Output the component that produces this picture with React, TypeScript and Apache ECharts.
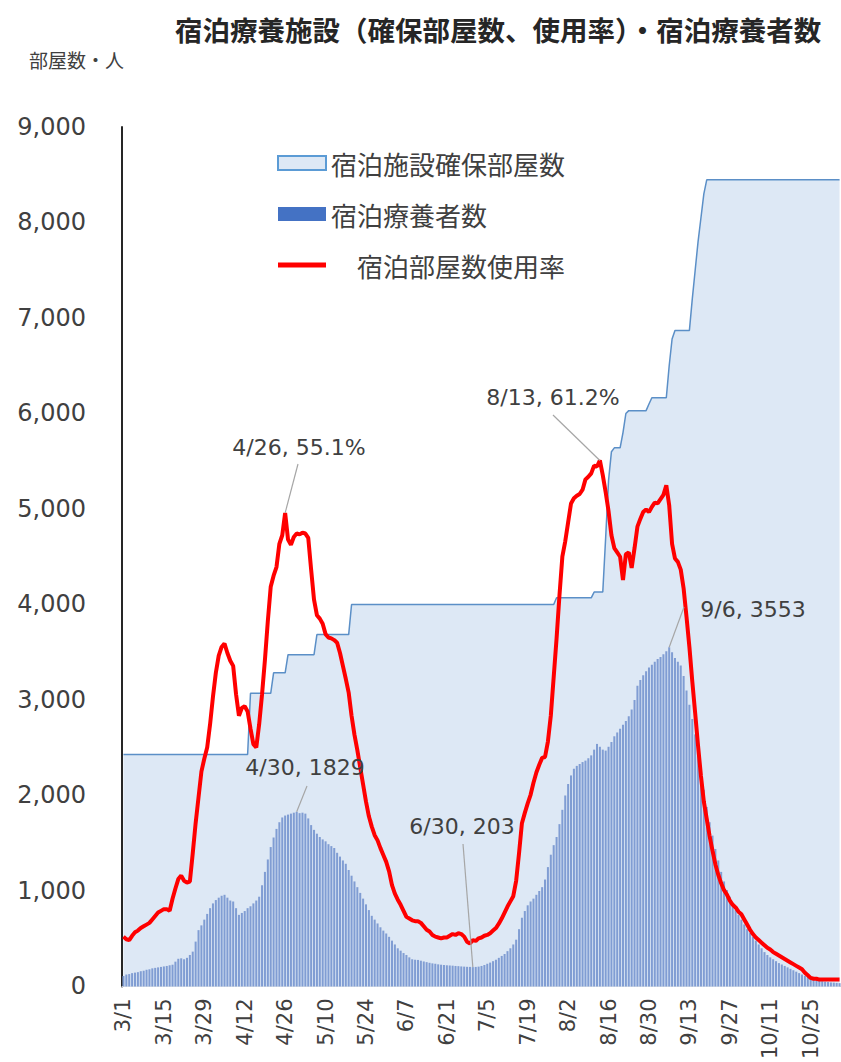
import React, { useEffect, useRef } from "react";
import * as echarts from "echarts";

// ---- Categories: daily dates from 3/1 (2021) for 249 days ----
const START_YEAR = 2021;
const START_MONTH = 3;
const START_DAY = 1;
const DAY_COUNT = 249;
function buildDates(): string[] {
  const out: string[] = [];
  const d = new Date(START_YEAR, START_MONTH - 1, START_DAY);
  for (let i = 0; i < DAY_COUNT; i++) {
    out.push(`${d.getMonth() + 1}/${d.getDate()}`);
    d.setDate(d.getDate() + 1);
  }
  return out;
}
const dates = buildDates();

// ---- 宿泊施設確保部屋数 (rooms secured) ----
const roomsSecured = [
  2430, 2430, 2430, 2430, 2430, 2430, 2430, 2430, 2430, 2430,
  2430, 2430, 2430, 2430, 2430, 2430, 2430, 2430, 2430, 2430,
  2430, 2430, 2430, 2430, 2430, 2430, 2430, 2430, 2430, 2430,
  2430, 2430, 2430, 2430, 2430, 2430, 2430, 2430, 2430, 2430,
  2430, 2430, 2430, 2430, 3070, 3070, 3070, 3070, 3070, 3070,
  3070, 3070, 3285, 3285, 3285, 3285, 3285, 3475, 3475, 3475,
  3475, 3475, 3475, 3475, 3475, 3475, 3475, 3685, 3685, 3685,
  3685, 3685, 3685, 3685, 3685, 3685, 3685, 3685, 3685, 4000,
  4000, 4000, 4000, 4000, 4000, 4000, 4000, 4000, 4000, 4000,
  4000, 4000, 4000, 4000, 4000, 4000, 4000, 4000, 4000, 4000,
  4000, 4000, 4000, 4000, 4000, 4000, 4000, 4000, 4000, 4000,
  4000, 4000, 4000, 4000, 4000, 4000, 4000, 4000, 4000, 4000,
  4000, 4000, 4000, 4000, 4000, 4000, 4000, 4000, 4000, 4000,
  4000, 4000, 4000, 4000, 4000, 4000, 4000, 4000, 4000, 4000,
  4000, 4000, 4000, 4000, 4000, 4000, 4000, 4000, 4000, 4000,
  4070, 4070, 4070, 4070, 4070, 4070, 4070, 4070, 4070, 4070,
  4070, 4070, 4070, 4130, 4130, 4130, 4130, 4700, 5300, 5600,
  5640, 5640, 5640, 5800, 6000, 6030, 6030, 6030, 6030, 6030,
  6030, 6030, 6100, 6165, 6165, 6165, 6165, 6165, 6165, 6500,
  6780, 6870, 6870, 6870, 6870, 6870, 6870, 7200, 7500, 7800,
  8050, 8300, 8447, 8447, 8447, 8447, 8447, 8447, 8447, 8447,
  8447, 8447, 8447, 8447, 8447, 8447, 8447, 8447, 8447, 8447,
  8447, 8447, 8447, 8447, 8447, 8447, 8447, 8447, 8447, 8447,
  8447, 8447, 8447, 8447, 8447, 8447, 8447, 8447, 8447, 8447,
  8447, 8447, 8447, 8447, 8447, 8447, 8447, 8447, 8447,
];

// ---- 宿泊療養者数 (people in hotel care) ----
const patients = [
  110, 125, 130, 140, 145, 150, 160, 165, 175, 180,
  190, 195, 200, 205, 210, 215, 222, 228, 260, 290,
  295, 285, 300, 330, 365, 470, 590, 640, 700, 760,
  820, 870, 905, 930, 950, 960, 930, 900, 890, 820,
  750, 770, 790, 820, 840, 870, 900, 940, 1060, 1200,
  1330, 1460, 1560, 1650, 1720, 1770, 1790, 1800, 1810, 1820,
  1829, 1815, 1820, 1810, 1760, 1690, 1640, 1600, 1565, 1540,
  1520, 1490, 1470, 1450, 1400, 1360, 1320, 1285, 1220, 1160,
  1100, 1040, 980, 920, 860, 800, 740, 700, 660, 620,
  585, 555, 520, 480, 440, 400, 375, 350, 330, 305,
  285, 280, 278, 270, 262, 255, 248, 242, 238, 232,
  228, 225, 222, 220, 218, 215, 213, 210, 208, 206,
  205, 203, 205, 208, 215, 225, 238, 250, 265, 280,
  300, 320, 340, 370, 400, 440, 490, 600, 720, 790,
  850, 890, 920, 960, 1000, 1040, 1120, 1250, 1380, 1480,
  1565, 1700, 1850, 2000, 2120, 2210, 2280, 2310, 2330, 2350,
  2365, 2390, 2420, 2480, 2540, 2510, 2480, 2470, 2510, 2560,
  2620, 2660, 2700, 2740, 2780, 2830, 2900, 3000, 3150, 3210,
  3260, 3300, 3340, 3370, 3400, 3430, 3450, 3480, 3510, 3553,
  3500, 3440, 3400, 3360, 3250, 3100, 2950, 2800, 2640, 2450,
  2250, 2060, 1880, 1720, 1580, 1440, 1320, 1200, 1100, 1010,
  940, 870, 800, 750, 700, 650, 600, 560, 520, 480,
  440, 400, 360, 330, 305, 285, 265, 245, 230, 215,
  200, 185, 170, 155, 140, 125, 112, 100, 90, 80,
  70, 62, 55, 50, 46, 42, 40, 37, 35,
];

// ---- 宿泊部屋数使用率 (usage rate, %) ----
const usageRate = [
  5.8, 5.5, 5.4, 5.9, 6.3, 6.5, 6.8, 7.0, 7.2, 7.4,
  7.8, 8.2, 8.6, 8.8, 9.0, 9.0, 8.8, 10.2, 11.4, 12.5,
  12.9, 12.3, 12.1, 12.2, 15.5, 19.0, 22.0, 25.0, 26.5, 27.8,
  30.5, 33.7, 36.5, 38.5, 39.5, 39.9, 38.8, 37.9, 37.3, 34.0,
  31.5, 32.4, 32.6, 32.0, 30.0, 28.2, 27.8, 30.5, 34.0, 38.0,
  42.5, 46.5, 47.8, 48.8, 51.5, 52.5, 55.1, 52.0, 51.4, 52.3,
  52.7, 52.6, 52.8, 52.7, 52.2, 48.5, 45.0, 43.2, 42.8, 42.2,
  41.0, 40.6, 40.5, 40.3, 40.0, 38.8, 37.3, 35.8, 34.2, 31.5,
  29.3, 27.5, 25.5, 23.5, 21.5, 19.8, 18.6, 17.6, 17.0, 16.1,
  15.3, 14.5, 13.4, 11.8, 10.8, 10.1, 9.5, 8.8, 8.1, 7.9,
  7.7, 7.6, 7.6, 7.4, 7.0, 6.6, 6.4, 6.0, 5.8, 5.7,
  5.6, 5.7, 5.7, 5.9, 6.1, 6.0, 6.2, 6.1, 5.8, 5.2,
  5.0, 5.4, 5.3, 5.6, 5.7, 5.9, 6.0, 6.2, 6.5, 6.8,
  7.3, 7.9, 8.6, 9.3, 9.9, 10.5, 12.3, 15.5, 19.0, 20.2,
  21.3, 22.3, 23.7, 24.9, 25.8, 26.6, 26.7, 28.5, 31.5, 36.0,
  40.5, 45.5, 50.0, 51.8, 54.0, 56.2, 56.8, 57.1, 57.3, 57.8,
  59.0, 59.3, 59.7, 60.6, 60.5, 61.2, 59.5, 57.5, 55.3, 52.5,
  51.0, 50.5, 50.0, 47.3, 50.3, 50.5, 48.7, 51.0, 53.5, 54.4,
  55.2, 55.5, 55.2, 55.8, 56.3, 56.2, 56.7, 57.2, 58.3, 56.0,
  51.5, 49.8, 49.4, 48.5, 46.3, 43.0, 39.5, 35.5, 31.8, 28.0,
  24.5, 21.5, 19.5, 17.5, 15.8, 14.2, 13.0, 12.0, 11.2, 10.7,
  10.0, 9.5, 9.2, 8.7, 8.4, 7.8, 7.2, 6.6, 6.1, 5.7,
  5.4, 5.1, 4.8, 4.5, 4.3, 4.0, 3.8, 3.6, 3.4, 3.2,
  3.0, 2.8, 2.6, 2.4, 2.2, 2.0, 1.6, 1.3, 1.0, 0.9,
  0.9, 0.8, 0.8, 0.8, 0.8, 0.8, 0.8, 0.8, 0.8,
];

// ---- Axis settings ----
const Y_MIN = 0;
const Y_MAX = 9000;
const Y_INTERVAL = 1000;
const RATE_MAX = 100;
const LABEL_EVERY = 14;

// ---- Names / texts ----
const TITLE = "宿泊療養施設（確保部屋数、使用率）・宿泊療養者数";
const UNIT = "部屋数・人";
const S_ROOMS = "宿泊施設確保部屋数";
const S_PATIENTS = "宿泊療養者数";
const S_RATE = "宿泊部屋数使用率";

// Callouts (which data point, label anchor)
const callouts = [
  { idx: 56, series: "rate", text: "4/26, 55.1%", lx: 299, ly: 447, fx: 298, fy: 464 },
  { idx: 165, series: "rate", text: "8/13, 61.2%", lx: 553, ly: 397, fx: 553, fy: 415 },
  { idx: 60, series: "patients", text: "4/30, 1829", lx: 305, ly: 767, fx: 307, fy: 786 },
  { idx: 121, series: "patients", text: "6/30, 203", lx: 462, ly: 826, fx: 463, fy: 844 },
  { idx: 189, series: "patients", text: "9/6, 3553", lx: 753, ly: 609, fx: 684, fy: 607 },
];

const LABEL_COLOR = "#404040";
const NUM_FONT = "DejaVu Sans";
const JP_FONT = "Noto Sans CJK JP";

export default function App() {
  const ref = useRef<HTMLDivElement>(null);

  useEffect(() => {
    document.body.style.margin = "0";
    if (!ref.current) return;
    const chart = echarts.init(ref.current, null, { renderer: "svg" });
    const option: any = {
      animation: false,
      backgroundColor: "#ffffff",
      title: [
        {
          text: TITLE,
          left: 170,
          top: 10,
          textStyle: { fontSize: 27.5, fontWeight: "bold", fontFamily: JP_FONT, color: "#262626" },
        },
        {
          text: UNIT,
          left: 24,
          top: 45,
          textStyle: { fontSize: 19, fontWeight: "normal", fontFamily: JP_FONT, color: LABEL_COLOR },
        },
      ],
      legend: {
        orient: "vertical",
        left: 272,
        top: 145,
        itemWidth: 48,
        itemHeight: 14,
        itemGap: 25,
        selectedMode: false,
        textStyle: { fontSize: 26, lineHeight: 26, color: LABEL_COLOR, fontFamily: JP_FONT },
        formatter: (name: string) => (name === S_RATE ? "\u3000" + name : name),
        data: [
          { name: S_ROOMS, icon: "rect", itemStyle: { color: "#dde8f5", borderColor: "#5b9bd5", borderWidth: 2 } },
          { name: S_PATIENTS, icon: "rect", itemStyle: { color: "#4472c4", borderWidth: 0 } },
          { name: S_RATE, icon: "path://M0,0H48V5H0Z", itemStyle: { color: "#ff0000", borderWidth: 0 } },
        ],
      },
      grid: { left: 122, right: 0, top: 127, bottom: 72, containLabel: false },
      xAxis: {
        type: "category",
        data: dates,
        boundaryGap: true,
        axisLine: { show: true, lineStyle: { color: "#d9d9d9", width: 1 } },
        axisTick: { show: false },
        splitLine: { show: false },
        axisLabel: {
          interval: LABEL_EVERY - 1,
          rotate: 90,
          margin: 12,
          fontSize: 21,
          fontFamily: NUM_FONT,
          color: LABEL_COLOR,
        },
      },
      yAxis: [
        {
          type: "value",
          min: Y_MIN,
          max: Y_MAX,
          interval: Y_INTERVAL,
          axisLine: { show: true, lineStyle: { color: "#262626", width: 2 } },
          axisTick: { show: false },
          splitLine: { show: false },
          axisLabel: {
            margin: 36,
            fontSize: 24,
            fontFamily: NUM_FONT,
            color: LABEL_COLOR,
            formatter: (v: number) => v.toLocaleString("en-US"),
          },
        },
        { type: "value", min: 0, max: RATE_MAX, show: false, splitLine: { show: false } },
      ],
      series: [
        {
          name: S_ROOMS,
          type: "line",
          data: roomsSecured,
          symbol: "none",
          lineStyle: { color: "#5b8fc7", width: 1.5 },
          itemStyle: { color: "#dde8f5" },
          areaStyle: { color: "#dde8f5", opacity: 1 },
          z: 1,
        },
        {
          name: S_PATIENTS,
          type: "bar",
          data: patients,
          barCategoryGap: "30%",
          itemStyle: { color: "#809dd3" },
          z: 2,
        },
        {
          name: S_RATE,
          type: "line",
          yAxisIndex: 1,
          data: usageRate,
          symbol: "none",
          lineStyle: { color: "#ff0000", width: 4 },
          itemStyle: { color: "#ff0000" },
          z: 3,
        },
      ],
    };
    chart.setOption(option);

    const graphics: any[] = [];
    callouts.forEach((c) => {
      const isRate = c.series === "rate";
      const value = isRate ? usageRate[c.idx] : patients[c.idx];
      const pt = chart.convertToPixel({ xAxisIndex: 0, yAxisIndex: isRate ? 1 : 0 }, [c.idx, value]) as number[];
      graphics.push({
        type: "line",
        z: 20,
        shape: { x1: c.fx, y1: c.fy, x2: pt[0], y2: pt[1] },
        style: { stroke: "#a6a6a6", lineWidth: 1.2 },
      });
      graphics.push({
        type: "text",
        z: 21,
        x: c.lx,
        y: c.ly,
        style: {
          text: c.text,
          fill: LABEL_COLOR,
          fontSize: 22,
          fontFamily: NUM_FONT,
          align: "center",
          verticalAlign: "middle",
        },
      });
    });
    chart.setOption({ graphic: graphics });

    return () => chart.dispose();
  }, []);

  return <div ref={ref} style={{ width: 841, height: 1062 }} />;
}
